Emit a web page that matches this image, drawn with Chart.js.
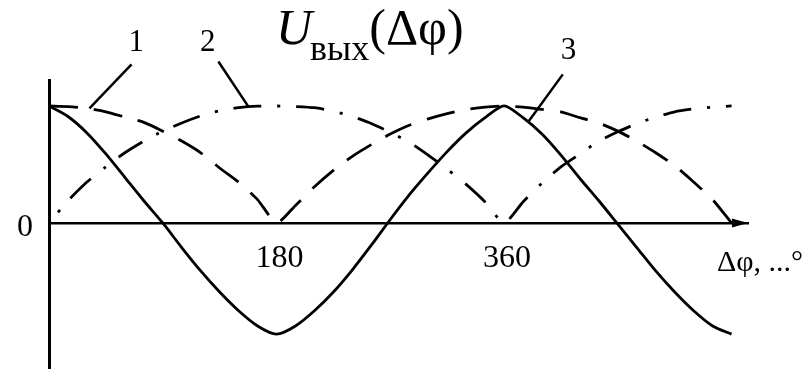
<!DOCTYPE html>
<html>
<head>
<meta charset="utf-8">
<script src="https://cdn.jsdelivr.net/npm/chart.js@4/dist/chart.umd.min.js"></script>
<style>
  html, body { margin: 0; padding: 0; background: #fff; }
  #wrap { width: 812px; height: 369px; position: relative; }
</style>
</head>
<body>
<div id="wrap"><canvas id="chart"></canvas></div>
<script>
// phase difference, degrees
const phase = [0, 15, 30, 45, 60, 75, 90, 105, 120, 135, 150, 165, 180,
  195, 210, 225, 240, 255, 270, 285, 300, 315, 330, 345, 360,
  375, 390, 405, 420, 435, 450, 465, 480, 495, 510, 525, 540];

// curve 1 (dashed)
const curve1 = [1.0, 0.995, 0.98, 0.95, 0.905, 0.86, 0.785, 0.70, 0.60, 0.47, 0.35, 0.20, 0.0,
  0.15, 0.31, 0.45, 0.57, 0.67, 0.76, 0.835, 0.89, 0.935, 0.97, 0.99, 1.0,
  0.99, 0.97, 0.95, 0.90, 0.855, 0.785, 0.70, 0.60, 0.49, 0.35, 0.20, 0.0];

// curve 2 (dash-dot)
const curve2 = [0.0, 0.19, 0.35, 0.48, 0.60, 0.70, 0.785, 0.855, 0.915, 0.96, 0.985, 0.998, 1.0,
  0.995, 0.985, 0.955, 0.91, 0.85, 0.775, 0.69, 0.58, 0.46, 0.33, 0.18, 0.0,
  0.18, 0.34, 0.48, 0.59, 0.70, 0.78, 0.85, 0.905, 0.95, 0.975, 0.99, 1.0];

// curve 3 (solid)
const curve3 = [1.0, 0.91, 0.77, 0.59, 0.39, 0.19, 0.0, -0.21, -0.41, -0.59, -0.75, -0.88, -0.95,
  -0.88, -0.75, -0.59, -0.40, -0.19, 0.03, 0.24, 0.43, 0.61, 0.77, 0.90, 1.0,
  0.90, 0.76, 0.58, 0.38, 0.19, -0.01, -0.21, -0.41, -0.59, -0.75, -0.88, -0.95];

const xTicks = [180, 360];
const yTicks = [0];

// curve labels with leader lines: [text, label point, line start, line end] in data units
const callouts = [
  ["1", [69, 1.54], [65.3, 1.355], [32, 0.98]],
  ["2", [125.5, 1.54], [134, 1.38], [158, 0.99]],
  ["3", [411, 1.47], [406.5, 1.27], [379.5, 0.87]]
];

const SERIF = '"Liberation Serif", "Times New Roman", serif';

function pts(ys) {
  return phase.map((x, i) => ({ x: x, y: ys[i] }));
}

const decor = {
  id: "decor",
  afterDraw(chart) {
    const ctx = chart.ctx;
    const xs = chart.scales.x, ys = chart.scales.y;
    const y0 = ys.getPixelForValue(0);
    ctx.save();
    ctx.fillStyle = "#000";
    ctx.strokeStyle = "#000";

    // arrow head on the horizontal axis
    const tip = xs.right;
    ctx.beginPath();
    ctx.moveTo(tip, y0);
    ctx.lineTo(tip - 16, y0 - 4.5);
    ctx.lineTo(tip - 16, y0 + 4.5);
    ctx.closePath();
    ctx.fill();

    // axis name
    ctx.font = "30px " + SERIF;
    ctx.textAlign = "left";
    ctx.textBaseline = "alphabetic";
    ctx.fillText("Δφ, ...°", tip - 31, y0 + 48);

    // leaders and curve numbers
    ctx.lineWidth = 2.5;
    ctx.font = "31px " + SERIF;
    ctx.textAlign = "center";
    ctx.textBaseline = "middle";
    callouts.forEach(([txt, lp, a, b]) => {
      ctx.beginPath();
      ctx.moveTo(xs.getPixelForValue(a[0]), ys.getPixelForValue(a[1]));
      ctx.lineTo(xs.getPixelForValue(b[0]), ys.getPixelForValue(b[1]));
      ctx.stroke();
      ctx.fillText(txt, xs.getPixelForValue(lp[0]), ys.getPixelForValue(lp[1]));
    });

    // title U_вых(Δφ)
    ctx.textAlign = "left";
    ctx.textBaseline = "alphabetic";
    let tx = 276;
    ctx.font = "italic 50px " + SERIF;
    ctx.fillText("U", tx, 44);
    tx += ctx.measureText("U").width - 2;
    ctx.font = "36px " + SERIF;
    ctx.fillText("вых", tx, 60);
    tx += ctx.measureText("вых").width;
    ctx.font = "50px " + SERIF;
    ctx.fillText("(Δφ)", tx, 44);
    ctx.restore();
  }
};

new Chart(document.getElementById("chart"), {
  type: "line",
  data: {
    datasets: [
      { label: "1", data: pts(curve1), borderColor: "#000", borderWidth: 2.8, borderDash: [29, 16], tension: 0.2 },
      { label: "2", data: pts(curve2), borderColor: "#000", borderWidth: 2.8, borderDash: [28, 16, 3, 16], borderDashOffset: 30, tension: 0.2 },
      { label: "3", data: pts(curve3), borderColor: "#000", borderWidth: 2.8, tension: 0.25 }
    ]
  },
  options: {
    responsive: true,
    maintainAspectRatio: false,
    animation: false,
    layout: { padding: { top: 80, right: 64, bottom: 0, left: 0 } },
    elements: { point: { radius: 0 } },
    plugins: { legend: { display: false }, tooltip: { enabled: false }, title: { display: false } },
    scales: {
      x: {
        type: "linear",
        position: { y: 0 },
        min: 0,
        max: 553,
        afterBuildTicks: s => { s.ticks = xTicks.map(v => ({ value: v })); },
        // the axis sits on y = 0 inside the plot, so it takes no strip of its own
        afterFit: s => { s.height = 0; },
        grid: { display: false, drawTicks: false },
        border: { display: true, color: "#000", width: 2.5 },
        ticks: { color: "#000", padding: 16, labelOffset: 3, maxRotation: 0, font: { family: SERIF, size: 32 } }
      },
      y: {
        type: "linear",
        min: -1.248,
        max: 1.222,
        afterBuildTicks: s => { s.ticks = yTicks.map(v => ({ value: v })); },
        afterFit: s => { s.width = 49; s.paddingTop = 0; s.paddingBottom = 0; },
        grid: { display: false, drawTicks: false },
        border: { display: true, color: "#000", width: 3 },
        ticks: { color: "#000", padding: 16, labelOffset: 5, font: { family: SERIF, size: 32 } }
      }
    }
  },
  plugins: [decor]
});
</script>
</body>
</html>
